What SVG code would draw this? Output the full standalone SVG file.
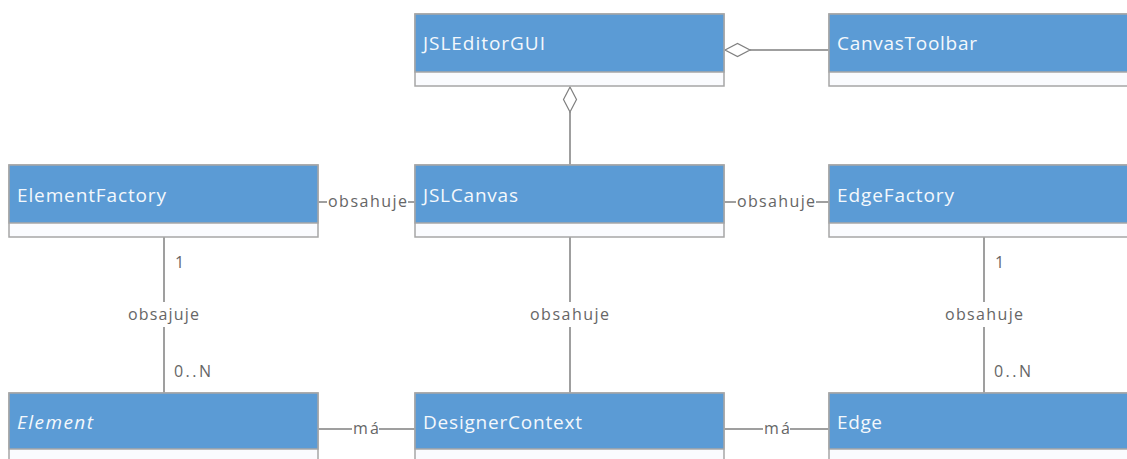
<svg xmlns="http://www.w3.org/2000/svg" width="1127" height="459" viewBox="0 0 1127 459">
<style>
.hdr{fill:#5B9BD5;stroke:#A6A6A6;stroke-width:1.5}
.bdy{fill:#FAFBFE;stroke:#A6A6A6;stroke-width:1.5}
.t{font-family:"Open Sans","Noto Sans",sans-serif;font-size:19px;fill:#F4F8FC}
.l{font-family:"Open Sans","Noto Sans",sans-serif;font-size:16px;fill:#666}
.c{stroke:#7F7F7F;stroke-width:1.5;fill:none}
.d{stroke:#7F7F7F;stroke-width:1.2;fill:#fff}
</style>
<rect width="1127" height="459" fill="#fff"/>
<g id="connectors">
<line class="c" x1="750" y1="50" x2="829" y2="50"/>
<polygon class="d" points="725,50 737.5,43.5 750,50 737.5,56.5"/>
<line class="c" x1="570" y1="112" x2="570" y2="165"/>
<polygon class="d" points="570,87 576.5,99.5 570,112 563.5,99.5"/>
<line class="c" x1="318" y1="202" x2="327" y2="202"/>
<line class="c" x1="408" y1="202" x2="415" y2="202"/>
<text class="l" x="328" y="207" textLength="79" lengthAdjust="spacing">obsahuje</text>
<line class="c" x1="724" y1="202" x2="736" y2="202"/>
<line class="c" x1="816" y1="202" x2="829" y2="202"/>
<text class="l" x="737" y="207" textLength="78" lengthAdjust="spacing">obsahuje</text>
<line class="c" x1="164" y1="237" x2="164" y2="302"/>
<line class="c" x1="164" y1="327" x2="164" y2="393"/>
<text class="l" x="128" y="320" textLength="71" lengthAdjust="spacing">obsajuje</text>
<text class="l" x="175" y="268">1</text>
<text class="l" x="174" y="377" textLength="37" lengthAdjust="spacing">0..N</text>
<line class="c" x1="570" y1="237" x2="570" y2="302"/>
<line class="c" x1="570" y1="327" x2="570" y2="393"/>
<text class="l" x="530" y="320" textLength="79" lengthAdjust="spacing">obsahuje</text>
<line class="c" x1="984" y1="237" x2="984" y2="302"/>
<line class="c" x1="984" y1="327" x2="984" y2="393"/>
<text class="l" x="945" y="320" textLength="78" lengthAdjust="spacing">obsahuje</text>
<text class="l" x="995" y="268">1</text>
<text class="l" x="994" y="377" textLength="37" lengthAdjust="spacing">0..N</text>
<line class="c" x1="318" y1="429" x2="352" y2="429"/>
<line class="c" x1="379" y1="429" x2="415" y2="429"/>
<text class="l" x="353" y="434" textLength="26" lengthAdjust="spacing">má</text>
<line class="c" x1="724" y1="429" x2="763" y2="429"/>
<line class="c" x1="790" y1="429" x2="829" y2="429"/>
<text class="l" x="764" y="434" textLength="26" lengthAdjust="spacing">má</text>
</g>
<g id="JSLEditorGUI">
<rect class="bdy" x="415" y="14" width="309" height="72"/>
<rect class="hdr" x="415" y="14" width="309" height="58"/>
<text class="t" x="423" y="50" textLength="122" lengthAdjust="spacing">JSLEditorGUI</text>
</g>
<g id="CanvasToolbar">
<rect class="bdy" x="829" y="14" width="310" height="72"/>
<rect class="hdr" x="829" y="14" width="310" height="58"/>
<text class="t" x="837" y="50" textLength="140" lengthAdjust="spacing">CanvasToolbar</text>
</g>
<g id="ElementFactory">
<rect class="bdy" x="9" y="165" width="309" height="72"/>
<rect class="hdr" x="9" y="165" width="309" height="58"/>
<text class="t" x="17" y="202" textLength="149" lengthAdjust="spacing">ElementFactory</text>
</g>
<g id="JSLCanvas">
<rect class="bdy" x="415" y="165" width="309" height="72"/>
<rect class="hdr" x="415" y="165" width="309" height="58"/>
<text class="t" x="423" y="202" textLength="95" lengthAdjust="spacing">JSLCanvas</text>
</g>
<g id="EdgeFactory">
<rect class="bdy" x="829" y="165" width="310" height="72"/>
<rect class="hdr" x="829" y="165" width="310" height="58"/>
<text class="t" x="837" y="202" textLength="117" lengthAdjust="spacing">EdgeFactory</text>
</g>
<g id="Element">
<rect class="bdy" x="9" y="393" width="309" height="80"/>
<rect class="hdr" x="9" y="393" width="309" height="56"/>
<text class="t" x="17" y="429" font-style="italic" textLength="76" lengthAdjust="spacing">Element</text>
</g>
<g id="DesignerContext">
<rect class="bdy" x="415" y="393" width="309" height="80"/>
<rect class="hdr" x="415" y="393" width="309" height="56"/>
<text class="t" x="423" y="429" textLength="159" lengthAdjust="spacing">DesignerContext</text>
</g>
<g id="Edge">
<rect class="bdy" x="829" y="393" width="310" height="80"/>
<rect class="hdr" x="829" y="393" width="310" height="56"/>
<text class="t" x="837" y="429" textLength="45" lengthAdjust="spacing">Edge</text>
</g>
</svg>
